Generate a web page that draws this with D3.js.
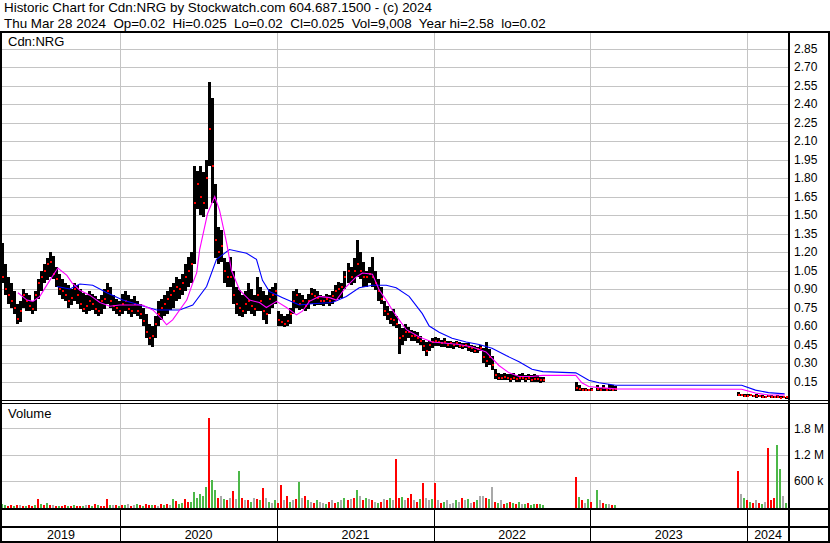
<!DOCTYPE html>
<html><head><meta charset="utf-8">
<script src="https://cdn.jsdelivr.net/npm/d3@7"></script>
<style>
html,body{margin:0;padding:0;background:#fff;}
svg{display:block;}
text{font-family:"Liberation Sans",Arial,sans-serif;fill:#000;}
</style></head><body>
<svg id="chart" width="830" height="543"></svg>
<script>
// ---------------- DATA ----------------
const titleLine1 = "Historic Chart for Cdn:NRG by Stockwatch.com 604.687.1500 - (c) 2024";
const titleLine2 = "Thu Mar 28 2024  Op=0.02  Hi=0.025  Lo=0.02  Cl=0.025  Vol=9,008  Year hi=2.58  lo=0.02";
const symbolLabel = "Cdn:NRG";
const volumeLabel = "Volume";
const startDate = new Date(2019, 3, 1);   // first weekly bar
const endDate = new Date(2024, 3, 3);
const yearBoundaries = [2020, 2021, 2022, 2023, 2024];
const yearLabels = ["2019", "2020", "2021", "2022", "2023", "2024"];
const priceTicks = [0.15,0.30,0.45,0.60,0.75,0.90,1.05,1.20,1.35,1.50,1.65,1.80,1.95,2.10,2.25,2.40,2.55,2.70,2.85];
const volTicks = [600000, 1200000, 1800000];
const volTickLabels = ["600 k", "1.2 M", "1.8 M"];

const gap = n => Array(n).fill(null);

// weekly high / low / close (week 0 = startDate)
const weekHigh = [
 1.27,1.10,1.00,0.95,0.88,0.78,0.80,0.90,0.87,0.85,
 0.80,0.88,0.98,1.05,1.10,1.15,1.20,1.17,1.08,1.02,
 0.98,0.95,0.93,0.90,0.95,0.93,0.90,0.87,0.85,0.88,
 0.86,0.84,0.82,0.85,0.90,0.95,0.92,0.85,0.82,0.80,
 0.86,0.88,0.85,0.82,0.84,0.80,0.78,0.75,0.70,0.62,
 0.60,0.68,0.80,0.82,0.85,0.88,0.92,0.95,1.00,0.98,
 1.02,1.10,1.16,1.20,1.90,1.86,1.90,1.85,1.95,2.58,
 2.45,1.75,1.40,1.38,1.15,1.12,1.16,1.05,0.92,0.89,
 0.85,0.88,0.95,0.90,0.85,1.00,0.92,0.88,0.85,0.90,
 0.92,0.95,0.72,0.70,0.68,0.70,0.75,0.88,0.90,0.87,
 0.85,0.82,0.86,0.91,0.90,0.88,0.85,0.84,0.86,0.85,
 0.88,0.93,0.96,0.95,1.05,1.11,1.08,1.15,1.30,1.20,
 1.12,1.05,1.08,1.16,1.05,0.98,0.92,0.80,0.76,0.72,
 0.74,0.68,0.62,0.58,0.62,0.59,0.57,0.56,0.55,0.52,
 0.49,0.47,0.48,0.50,0.51,0.50,0.49,0.50,0.48,0.48,
 0.47,0.48,0.47,0.46,0.46,0.46,0.45,0.44,0.43,0.45,
 0.42,0.47,0.41,0.36,0.25,0.22,0.21,0.22,0.21,0.21,
 0.22,0.20,0.21,0.22,0.20,0.21,0.20,0.21,0.20,0.19,
 0.19, ...gap(10),
 0.15,0.12,0.10,0.10,0.09,0.10,null,0.12,0.10,0.12,0.10,0.13,0.12,0.11, ...gap(40),
 0.065,0.05,0.05,0.045,0.05,0.04,0.045,0.04,0.04,0.035,0.04,0.04,0.035,0.04,0.035,0.03,0.025
];
const weekLow = [
 0.95,0.85,0.78,0.75,0.70,0.62,0.63,0.75,0.72,0.72,
 0.70,0.72,0.82,0.88,0.95,0.97,1.00,0.98,0.92,0.85,
 0.82,0.80,0.75,0.77,0.80,0.78,0.74,0.71,0.70,0.72,
 0.73,0.70,0.68,0.70,0.74,0.78,0.75,0.72,0.70,0.68,
 0.70,0.72,0.70,0.67,0.70,0.68,0.66,0.60,0.50,0.45,
 0.43,0.50,0.60,0.65,0.68,0.70,0.73,0.75,0.80,0.82,
 0.85,0.88,0.92,0.95,1.10,1.55,1.50,1.48,1.55,1.90,
 1.60,1.15,1.10,1.12,0.95,0.92,0.92,0.78,0.70,0.68,
 0.67,0.70,0.72,0.70,0.68,0.72,0.72,0.65,0.62,0.70,
 0.75,0.78,0.60,0.60,0.59,0.60,0.62,0.70,0.75,0.73,
 0.74,0.72,0.74,0.78,0.76,0.77,0.77,0.76,0.78,0.76,
 0.78,0.80,0.82,0.83,0.90,0.95,0.93,0.95,1.00,0.98,
 0.92,0.92,0.95,0.92,0.89,0.80,0.78,0.68,0.65,0.62,
 0.60,0.58,0.37,0.45,0.48,0.50,0.48,0.48,0.46,0.45,
 0.40,0.36,0.40,0.42,0.44,0.44,0.43,0.43,0.42,0.42,
 0.41,0.43,0.42,0.41,0.42,0.40,0.39,0.38,0.38,0.40,
 0.30,0.27,0.28,0.24,0.17,0.16,0.16,0.16,0.16,0.15,
 0.16,0.15,0.15,0.16,0.15,0.16,0.15,0.15,0.15,0.14,
 0.15, ...gap(10),
 0.07,0.07,0.07,0.07,0.07,0.07,null,0.07,0.07,0.07,0.07,0.07,0.07,0.07, ...gap(40),
 0.03,0.03,0.025,0.025,0.03,0.025,0.02,0.025,0.02,0.02,0.025,0.02,0.02,0.02,0.02,0.02,0.02
];
const weekClose = [
 1.00,0.90,0.85,0.80,0.75,0.66,0.72,0.85,0.80,0.76,
 0.74,0.85,0.95,1.00,1.05,1.10,1.12,1.02,0.98,0.90,
 0.88,0.85,0.80,0.83,0.90,0.85,0.78,0.74,0.76,0.80,
 0.78,0.74,0.72,0.80,0.82,0.88,0.80,0.76,0.75,0.72,
 0.78,0.80,0.74,0.72,0.78,0.72,0.70,0.64,0.55,0.50,
 0.52,0.62,0.70,0.75,0.78,0.82,0.85,0.88,0.92,0.90,
 0.95,1.00,1.05,1.10,1.60,1.75,1.65,1.60,1.80,2.20,
 1.90,1.30,1.20,1.25,1.05,1.00,1.00,0.85,0.78,0.75,
 0.72,0.78,0.80,0.76,0.74,0.85,0.80,0.72,0.70,0.82,
 0.85,0.88,0.65,0.63,0.62,0.64,0.70,0.80,0.85,0.78,
 0.80,0.76,0.80,0.86,0.84,0.83,0.80,0.80,0.82,0.80,
 0.84,0.88,0.90,0.92,1.00,1.05,1.00,1.05,1.10,1.05,
 1.00,1.00,1.02,1.00,0.95,0.88,0.82,0.72,0.70,0.66,
 0.65,0.62,0.50,0.52,0.55,0.55,0.52,0.52,0.50,0.48,
 0.44,0.40,0.45,0.47,0.48,0.47,0.46,0.47,0.45,0.46,
 0.45,0.46,0.44,0.44,0.45,0.43,0.42,0.40,0.41,0.42,
 0.35,0.32,0.35,0.28,0.20,0.18,0.18,0.19,0.18,0.17,
 0.18,0.17,0.18,0.18,0.17,0.18,0.16,0.17,0.17,0.16,
 0.16, ...gap(10),
 0.10,0.09,0.08,0.08,0.08,0.08,null,0.09,0.08,0.10,0.08,0.09,0.08,0.09, ...gap(40),
 0.04,0.04,0.035,0.03,0.04,0.03,0.03,0.03,0.025,0.025,0.03,0.025,0.025,0.025,0.02,0.025,0.025
];

// short (magenta) and long (blue) moving averages: [week, value]
const maShort = [[5.3,0.87],[8.3,0.81],[10.3,0.80],[12.6,0.84],[15.9,0.97],[18.6,1.07],[21.6,1.01],[23.3,0.95],[25.9,0.89],[29.2,0.85],[32.6,0.79],[35.9,0.76],[39.2,0.77],[43.5,0.77],[46.8,0.77],[50.2,0.73],[53.5,0.65],[54.8,0.61],[56.8,0.65],[61.5,0.81],[63.5,0.95],[64.8,1.03],[65.8,1.22],[68.4,1.51],[70.8,1.65],[72.4,1.54],[74.8,1.27],[76.4,1.05],[79.1,0.89],[82.4,0.81],[85.7,0.79],[88,0.75],[91.4,0.80],[94.7,0.75],[98,0.69],[100,0.72],[102.3,0.80],[105.6,0.84],[109,0.83],[111.3,0.81],[114.6,0.92],[118,1.00],[120,1.03],[123.3,1.02],[125.6,0.89],[127.9,0.81],[129.9,0.73],[132.2,0.65],[134.6,0.57],[138.9,0.51],[143.2,0.47],[147.8,0.46],[152.2,0.45],[156.5,0.43],[161.1,0.39],[165.4,0.28],[168.8,0.22],[172.1,0.19],[176.4,0.19],[180,0.20],[191,0.20],[193,0.14],[195.3,0.11],[198.7,0.10],[204.3,0.09],[246.2,0.087],[250.8,0.057],[255.1,0.04],[260.5,0.04]];
const maLong = [[18.3,0.92],[22.6,0.90],[25.9,0.94],[30.2,0.93],[34.9,0.87],[40.2,0.81],[45.8,0.77],[51.5,0.73],[59.1,0.73],[63.5,0.77],[68.1,0.92],[71.4,1.14],[75.7,1.22],[81.4,1.19],[84.7,1.14],[86.7,0.97],[89,0.88],[93.4,0.83],[99,0.77],[103.3,0.78],[110,0.79],[114.6,0.84],[118.9,0.91],[123.3,0.93],[127.9,0.93],[131.2,0.91],[135.5,0.84],[139.9,0.70],[142.2,0.60],[145.5,0.55],[149.8,0.50],[154.5,0.47],[158.8,0.45],[163.1,0.42],[167.8,0.36],[172.1,0.31],[176.4,0.25],[180,0.23],[191,0.22],[195.3,0.16],[198.7,0.14],[204.3,0.12],[246.2,0.12],[250.8,0.08],[255.1,0.06],[260.5,0.05]];

// weekly volume (thousands) and colour code (g = up, r = down, n = unchanged)
const weekVolume = [
 80,45,30,40,25,35,50,30,20,45,
 30,40,183,60,35,100,50,40,30,25,
 20,35,30,25,45,30,20,25,35,40,
 30,60,45,25,30,183,50,35,40,30,
 40,35,80,30,50,70,40,30,60,45,
 50,40,30,60,55,70,45,190,130,80,
 100,180,120,110,350,200,300,250,465,2040,
 618,400,200,250,180,150,200,366,180,824,
 200,150,150,120,200,180,150,435,200,120,
 100,150,100,504,150,250,120,150,180,565,
 200,250,150,120,100,150,120,100,80,120,
 150,100,120,150,200,150,180,200,389,250,
 150,200,180,150,120,100,120,180,150,200,
 150,1100,200,230,150,200,300,150,120,180,
 550,200,150,180,550,150,100,120,150,80,
 100,150,120,200,150,180,100,120,150,250,
 250,200,180,465,120,100,150,80,100,120,
 100,80,120,60,80,100,50,80,60,70,
 50, ...gap(10),
 687,220,150,100,180,120,null,389,150,100,80,60,50,40, ...gap(40),
 824,300,200,150,120,100,150,100,80,120,1360,150,200,1420,870,250,100
];
const weekVolColor = [
 "ggrrgrnrgr","rgrgrgrnrg","rrgrgrrgnr","grgrrrgnrg","rgnrngrgrr",
 "grnrgrngrg","grrggggggr","ggrngrnrng","rnrgnrgrng","ngrrnrgnrg",
 "nrgnrgnngr","nrgngrnrgn","rgnrngrnrg","nrrgnrrnrg","rnngrnrgnn",
 "ngnrngnrgn","nrgnrgnrgr","grgngrggrg","g","----------",
 "rgrngr-gnrgnrg","----------","----------","----------","----------",
 "rngrgrnrgnrrrggng"
].join("");

// ---------------- LAYOUT ----------------
const svg = d3.select("#chart");
const W = 830, H = 543;
const L = 2, R = 787, AX = 789;
const pTop = 32, pBot = 400, vTop = 403, vBot = 509, rowMid = 527, bot = 542;
const gridCol = "#c4c4c4";
const colors = {g: "#4cb848", r: "#ff0000", n: "#a9a9a9"};

const x = d3.scaleTime().domain([startDate, endDate]).range([L, R]);
const yP = d3.scaleLinear().domain([0, 0.15]).range([pBot, pBot - 18.5]);
const yV = d3.scaleLinear().domain([0, 600000]).range([507, 480.8]);
const weekDate = i => d3.timeDay.offset(startDate, 7 * i);
const fracWeekDate = w => new Date(+startDate + w * 7 * 864e5);
const yearDates = yearBoundaries.map(y => new Date(y, 0, 1));

svg.append("rect").attr("width", W).attr("height", H).attr("fill", "#fff");

// clip paths
const defs = svg.append("defs");
defs.append("clipPath").attr("id", "cp").append("rect").attr("x", L).attr("y", pTop + 1).attr("width", AX - L - 1).attr("height", pBot - pTop - 1);
defs.append("clipPath").attr("id", "cv").append("rect").attr("x", L).attr("y", vTop + 1).attr("width", AX - L - 1).attr("height", vBot - vTop - 2);

// ---- price grid
const gP = svg.append("g");
gP.append("g").attr("transform", `translate(${R + 1},0)`)
  .call(d3.axisLeft(yP).tickValues(priceTicks).tickSize(R + 1 - L).tickFormat(""))
  .call(g => g.select(".domain").remove())
  .call(g => g.selectAll("line").attr("stroke", gridCol).attr("shape-rendering", "crispEdges"));
gP.append("g").attr("transform", `translate(0,${pBot})`)
  .call(d3.axisTop(x).tickValues(yearDates).tickSize(pBot - pTop).tickFormat(""))
  .call(g => g.select(".domain").remove())
  .call(g => g.selectAll("line").attr("stroke", gridCol).attr("shape-rendering", "crispEdges"));

// ---- volume grid
const gV = svg.append("g");
gV.append("g").attr("transform", `translate(${R + 1},0)`)
  .call(d3.axisLeft(yV).tickValues(volTicks).tickSize(R + 1 - L).tickFormat(""))
  .call(g => g.select(".domain").remove())
  .call(g => g.selectAll("line").attr("stroke", gridCol).attr("shape-rendering", "crispEdges"));
gV.append("g").attr("transform", `translate(0,${vBot})`)
  .call(d3.axisTop(x).tickValues(yearDates).tickSize(vBot - vTop).tickFormat(""))
  .call(g => g.select(".domain").remove())
  .call(g => g.selectAll("line").attr("stroke", gridCol).attr("shape-rendering", "crispEdges"));

// ---- price bars
const bars = weekHigh.map((h, i) => ({i, h, l: weekLow[i], c: weekClose[i]})).filter(d => d.h != null);
const pg = svg.append("g").attr("clip-path", "url(#cp)");
pg.selectAll("rect.bar").data(bars).join("rect").attr("class", "bar")
  .attr("x", d => Math.round(x(weekDate(d.i))) - 1)
  .attr("width", 3)
  .attr("y", d => Math.round(yP(d.h)))
  .attr("height", d => Math.max(2, Math.round(yP(d.l)) - Math.round(yP(d.h))))
  .attr("fill", "#000");
pg.selectAll("rect.cl").data(bars).join("rect").attr("class", "cl")
  .attr("x", d => Math.round(x(weekDate(d.i))))
  .attr("width", 2)
  .attr("y", d => Math.round(yP(d.c)) - 1)
  .attr("height", 2)
  .attr("fill", "#ff0000");

const line = d3.line().x(d => x(fracWeekDate(d[0]))).y(d => yP(d[1]));
pg.append("path").attr("d", line(maLong)).attr("fill", "none").attr("stroke", "#0000ff").attr("stroke-width", 1.1);
pg.append("path").attr("d", line(maShort)).attr("fill", "none").attr("stroke", "#ff00ff").attr("stroke-width", 1.1);

// ---- volume bars
const vols = weekVolume.map((v, i) => ({i, v, c: weekVolColor[i]})).filter(d => d.v != null);
const vg = svg.append("g").attr("clip-path", "url(#cv)");
vg.selectAll("rect").data(vols).join("rect")
  .attr("x", d => Math.round(x(weekDate(d.i))) - 1)
  .attr("width", 2)
  .attr("y", d => Math.round(yV(d.v * 1000)))
  .attr("height", d => 508 - Math.round(yV(d.v * 1000)))
  .attr("fill", d => colors[d.c] || colors.n);

// ---- axes labels (right)
svg.append("g").attr("transform", `translate(${AX},0)`)
  .call(d3.axisRight(yP).tickValues(priceTicks).tickSize(0).tickPadding(5).tickFormat(d3.format(".2f")))
  .call(g => g.select(".domain").remove())
  .call(g => g.selectAll("text").attr("font-size", 12).attr("font-family", "Liberation Sans, Arial, sans-serif").attr("fill", "#000"));
svg.append("g").attr("transform", `translate(${AX},0)`)
  .call(d3.axisRight(yV).tickValues(volTicks).tickSize(0).tickPadding(5).tickFormat((d, i) => volTickLabels[i]))
  .call(g => g.select(".domain").remove())
  .call(g => g.selectAll("text").attr("font-size", 12).attr("font-family", "Liberation Sans, Arial, sans-serif").attr("fill", "#000"));

// ---- frame lines
const frame = svg.append("g").attr("stroke", "#000").attr("shape-rendering", "crispEdges");
const hl = (y, w, x1 = 0, x2 = W) => frame.append("line").attr("x1", x1).attr("x2", x2).attr("y1", y).attr("y2", y).attr("stroke-width", w);
const vl = (xx, w, y1, y2) => frame.append("line").attr("x1", xx).attr("x2", xx).attr("y1", y1).attr("y2", y2).attr("stroke-width", w);
hl(32, 2);
hl(400.5, 1);
hl(403.5, 1);
hl(509, 2);
hl(527, 2);
hl(542, 2);
vl(1, 2, 31, 543);
vl(829, 2, 31, 543);
vl(789, 2, 31, 543);
yearDates.forEach(d => vl(Math.round(x(d)) + 0.5, 1, vBot, bot));

// ---- year labels
const bounds = [L, ...yearDates.map(d => x(d)), AX];
svg.append("g").selectAll("text").data(yearLabels).join("text")
  .attr("x", (d, i) => (bounds[i] + bounds[i + 1]) / 2)
  .attr("y", 539)
  .attr("text-anchor", "middle")
  .attr("font-size", 12.5)
  .text(d => d);

// ---- titles
svg.append("text").attr("x", 4).attr("y", 12).attr("font-size", 13.4).style("white-space", "pre").text(titleLine1);
svg.append("text").attr("x", 4).attr("y", 28).attr("font-size", 13.4).style("white-space", "pre").text(titleLine2);
svg.append("text").attr("x", 8).attr("y", 46).attr("font-size", 13).text(symbolLabel);
svg.append("text").attr("x", 8).attr("y", 418).attr("font-size", 13).text(volumeLabel);
</script>
</body></html>
